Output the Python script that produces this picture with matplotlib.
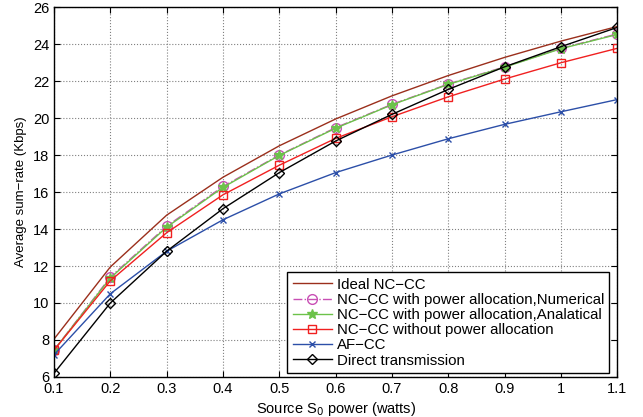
import matplotlib
matplotlib.use("Agg")
import matplotlib.pyplot as plt

power = [0.1, 0.2, 0.3, 0.4, 0.5, 0.6, 0.7, 0.8, 0.9, 1.0, 1.1]

ideal_nccc = [8.05, 11.95, 14.75, 16.8, 18.5, 19.95, 21.2, 22.3, 23.28, 24.16, 24.95]
nccc_pa_numerical = [7.45, 11.4, 14.15, 16.3, 18.0, 19.48, 20.74, 21.84, 22.77, 23.77, 24.55]
nccc_pa_analytical = [7.45, 11.35, 14.1, 16.25, 17.98, 19.45, 20.72, 21.82, 22.75, 23.75, 24.52]
nccc_no_pa = [7.45, 11.2, 13.8, 15.85, 17.45, 18.9, 20.07, 21.15, 22.11, 22.99, 23.77]
af_cc = [7.2, 10.5, 12.8, 14.5, 15.9, 17.05, 18.0, 18.88, 19.66, 20.34, 21.0]
direct = [6.2, 10.0, 12.8, 15.1, 17.05, 18.76, 20.2, 21.55, 22.77, 23.86, 24.9]


def main() -> None:
    plt.rcParams["font.family"] = ["Liberation Sans", "DejaVu Sans"]
    fig = plt.figure(figsize=(6.43, 4.17), dpi=100)
    ax = fig.add_axes([0.084, 0.096, 0.876, 0.887])

    ax.plot(power, ideal_nccc, color="#9b2f1c", linewidth=1.0, label="Ideal NC\u2212CC")
    ax.plot(power, nccc_pa_numerical, color="#c84fb4", linestyle="-.", linewidth=1.0,
            marker="o", markersize=7, markerfacecolor="none",
            label="NC\u2212CC with power allocation,Numerical")
    ax.plot(power, nccc_pa_analytical, color="#6cc24a", linewidth=1.0,
            marker="*", markersize=7,
            label="NC\u2212CC with power allocation,Analatical")
    ax.plot(power, nccc_no_pa, color="#f02020", linewidth=1.0,
            marker="s", markersize=6, markerfacecolor="none",
            label="NC\u2212CC without power allocation")
    ax.plot(power, af_cc, color="#2c4fa8", linewidth=1.0,
            marker="x", markersize=5, label="AF\u2212CC")
    ax.plot(power, direct, color="black", linewidth=1.0,
            marker="D", markersize=5, markerfacecolor="none",
            label="Direct transmission")

    ax.set_xlim(0.1, 1.1)
    ax.set_ylim(6, 26)
    ax.set_xticks(power)
    ax.set_xticklabels(["0.1", "0.2", "0.3", "0.4", "0.5", "0.6", "0.7", "0.8", "0.9", "1", "1.1"])
    ax.set_yticks(range(6, 27, 2))
    ax.tick_params(direction="in", labelsize=10.5, top=True, right=True, length=4)
    ax.grid(True, linestyle=":", color="#808080", linewidth=0.8)
    for spine in ax.spines.values():
        spine.set_linewidth(1.0)

    ax.set_xlabel("Source S$_0$ power (watts)", fontsize=10.5, labelpad=3)
    ax.set_ylabel("Average sum\u2212rate (Kbps)", fontsize=9.5, labelpad=4)

    leg = ax.legend(loc="lower right", bbox_to_anchor=(0.986, 0.011), borderaxespad=0,
                    fontsize=10.8, fancybox=False, framealpha=1,
                    edgecolor="black", borderpad=0.35, labelspacing=0.08,
                    handlelength=2.6, handletextpad=0.35)
    leg.get_frame().set_linewidth(1.0)

    fig.savefig("out.png", dpi=100)


if __name__ == "__main__":
    main()
